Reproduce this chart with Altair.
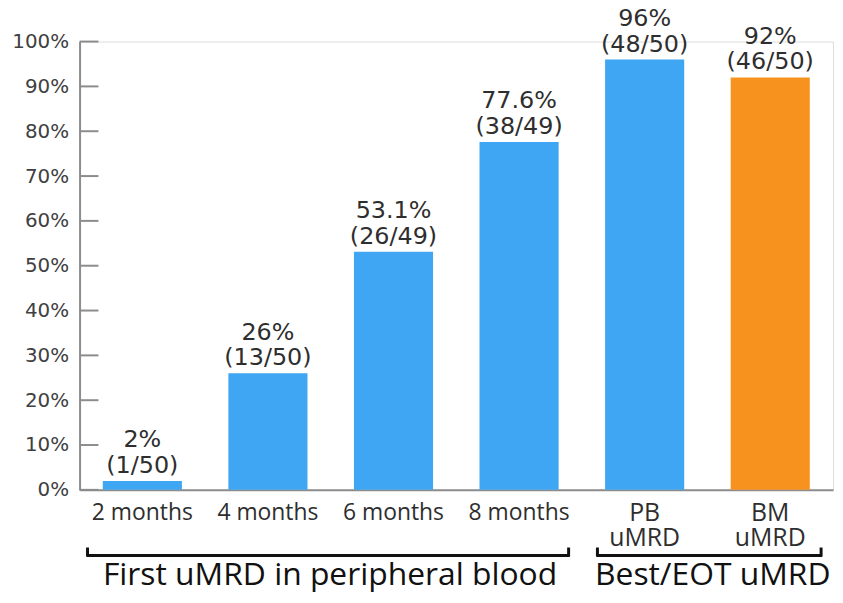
import altair as alt
import pandas as pd

categories = ["2 months", "4 months", "6 months", "8 months", "PB|uMRD", "BM|uMRD"]
percent_values = [2, 26, 53.1, 77.6, 96, 92]
percent_labels = ["2%", "26%", "53.1%", "77.6%", "96%", "92%"]
numerators = [1, 13, 26, 38, 48, 46]
denominators = [50, 50, 49, 49, 50, 50]
sample_type = ["PB", "PB", "PB", "PB", "PB", "BM"]
y_ticks = [0, 10, 20, 30, 40, 50, 60, 70, 80, 90, 100]
group_titles = ["First uMRD in peripheral blood", "Best/EOT uMRD"]

df = pd.DataFrame({
    "category": categories,
    "value": percent_values,
    "label": [f"{p}\n({n}/{d})" for p, n, d in zip(percent_labels, numerators, denominators)],
    "type": sample_type,
    "multiline": [("|" in c) for c in categories],
})
ticks_df = pd.DataFrame({"t": y_ticks})
one = pd.DataFrame({"a": [0]})

BLUE = "#3EA6F2"
ORANGE = "#F8921E"
AXIS_GRAY = "#8C8C8C"
TXT = "#2E2E2E"

x_scale = alt.Scale(domain=categories, paddingInner=0.37, paddingOuter=0.185)
x_enc = alt.X("category:N", sort=categories, scale=x_scale,
              axis=alt.Axis(title=None, labels=False, ticks=False,
                            domainColor=AXIS_GRAY, domainWidth=2))
y_scale = alt.Scale(domain=[0, 100], nice=False)

bars = alt.Chart(df).mark_bar().encode(
    x=x_enc,
    y=alt.Y("value:Q", scale=y_scale,
            axis=alt.Axis(title=None, values=y_ticks, ticks=False,
                          labelExpr="datum.value + '%'",
                          domainColor=AXIS_GRAY, domainWidth=2,
                          labelFont="DejaVu Sans", labelFontSize=20,
                          labelColor="#404040", labelPadding=11, grid=False)),
    color=alt.Color("type:N", scale=alt.Scale(domain=["PB", "BM"], range=[BLUE, ORANGE]),
                    legend=None),
)

labels = alt.Chart(df).mark_text(
    baseline="bottom", lineBreak="\n", dy=-29, fontSize=24,
    font="DejaVu Sans", color=TXT, lineHeight=26,
).encode(
    x=alt.X("category:N", sort=categories, scale=x_scale),
    y=alt.Y("value:Q", scale=y_scale),
    text="label:N",
)

xlab_single = alt.Chart(df).transform_filter("!datum.multiline").mark_text(
    fontSize=23, font="Open Sans", color=TXT, baseline="middle",
).encode(
    x=alt.X("category:N", sort=categories, scale=x_scale),
    y=alt.value(474),
    text="category:N",
)

xlab_multi = alt.Chart(df).transform_filter("datum.multiline").mark_text(
    fontSize=25, font="Open Sans", color=TXT, baseline="middle",
    lineBreak="|", lineHeight=25,
).encode(
    x=alt.X("category:N", sort=categories, scale=x_scale),
    y=alt.value(474),
    text="category:N",
)

yticks = alt.Chart(ticks_df).mark_rule(color=AXIS_GRAY, strokeWidth=2).encode(
    y=alt.Y("t:Q", scale=y_scale),
    x=alt.value(0),
    x2=alt.value(19),
)

def hline(x1, x2, y):
    return alt.Chart(one).mark_rule(color="#111111", strokeWidth=3).encode(
        x=alt.value(x1), x2=alt.value(x2), y=alt.value(y))

def vline(x, y1, y2):
    return alt.Chart(one).mark_rule(color="#111111", strokeWidth=3).encode(
        x=alt.value(x), y=alt.value(y1), y2=alt.value(y2))

def gtext(txt, x, y):
    return alt.Chart(one).mark_text(
        text=txt, fontSize=32, font="Open Sans", color="#111111",
        align="center", baseline="middle").encode(x=alt.value(x), y=alt.value(y))

annotations = [
    hline(7, 493, 517), vline(8, 509, 518), vline(492, 509, 518),
    hline(520, 747, 517), vline(521, 509, 518), vline(746, 509, 518),
    gtext(group_titles[0], 252, 537),
    gtext(group_titles[1], 637, 537),
]

chart = alt.layer(bars, labels, xlab_single, xlab_multi, yticks, *annotations).properties(
    width=758, height=451,
    autosize=alt.AutoSizeParams(type="none"),
    padding={"left": 72, "top": 32, "right": 2, "bottom": 104},
).configure_view(stroke=None).configure(background="white")

chart.save("out.html", embed_options={"renderer": "svg", "actions": False})
